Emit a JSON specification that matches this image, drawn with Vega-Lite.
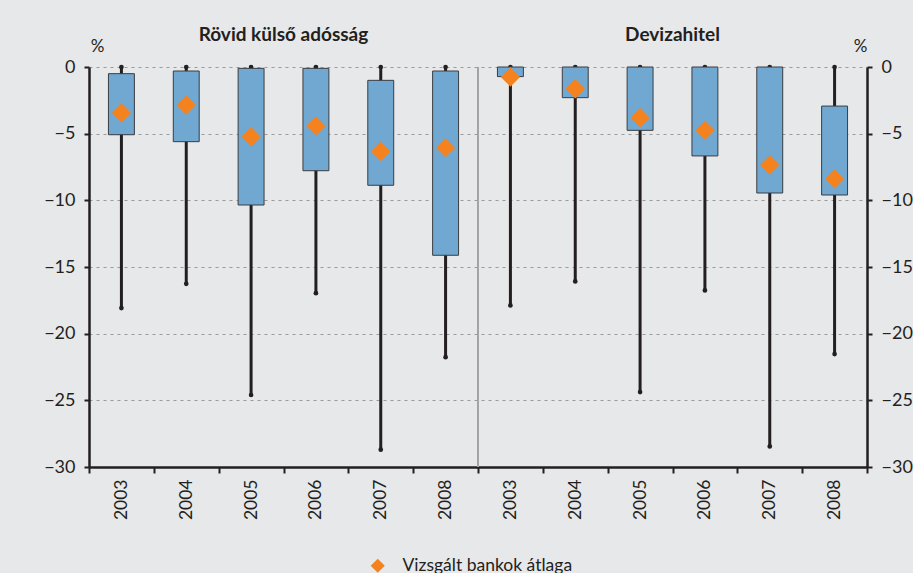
{
  "$schema": "https://vega.github.io/schema/vega-lite/v6.json",
  "width": 778,
  "height": 400,
  "padding": {"left": 43, "right": 0, "top": 25, "bottom": 0},
  "background": "#e7e8ea",
  "config": {
    "view": {"stroke": null},
    "font": "Lato",
    "axis": {"labelFont": "Lato", "titleFont": "Lato", "labelColor": "#231f20", "titleColor": "#231f20"},
    "legend": {"labelFont": "Lato"}
  },
  "data": {
    "values": [
      {"key": "R2003", "panel": "Rövid külső adósság", "min": -18.08, "lo": -5.08, "hi": -0.5, "max": 0, "mean": -3.45, "series": "Vizsgált bankok átlaga"},
      {"key": "R2004", "panel": "Rövid külső adósság", "min": -16.26, "lo": -5.6, "hi": -0.3, "max": 0, "mean": -2.85, "series": "Vizsgált bankok átlaga"},
      {"key": "R2005", "panel": "Rövid külső adósság", "min": -24.6, "lo": -10.35, "hi": -0.1, "max": 0, "mean": -5.23, "series": "Vizsgált bankok átlaga"},
      {"key": "R2006", "panel": "Rövid külső adósság", "min": -16.96, "lo": -7.78, "hi": -0.1, "max": 0, "mean": -4.42, "series": "Vizsgált bankok átlaga"},
      {"key": "R2007", "panel": "Rövid külső adósság", "min": -28.7, "lo": -8.87, "hi": -1.0, "max": 0, "mean": -6.33, "series": "Vizsgált bankok átlaga"},
      {"key": "R2008", "panel": "Rövid külső adósság", "min": -21.76, "lo": -14.12, "hi": -0.3, "max": 0, "mean": -6.05, "series": "Vizsgált bankok átlaga"},
      {"key": "D2003", "panel": "Devizahitel", "min": -17.88, "lo": -0.72, "hi": 0, "max": 0, "mean": -0.75, "series": "Vizsgált bankok átlaga"},
      {"key": "D2004", "panel": "Devizahitel", "min": -16.08, "lo": -2.3, "hi": 0, "max": 0, "mean": -1.63, "series": "Vizsgált bankok átlaga"},
      {"key": "D2005", "panel": "Devizahitel", "min": -24.38, "lo": -4.75, "hi": 0, "max": 0, "mean": -3.8, "series": "Vizsgált bankok átlaga"},
      {"key": "D2006", "panel": "Devizahitel", "min": -16.76, "lo": -6.67, "hi": 0, "max": 0, "mean": -4.75, "series": "Vizsgált bankok átlaga"},
      {"key": "D2007", "panel": "Devizahitel", "min": -28.46, "lo": -9.45, "hi": 0, "max": 0, "mean": -7.35, "series": "Vizsgált bankok átlaga"},
      {"key": "D2008", "panel": "Devizahitel", "min": -21.53, "lo": -9.6, "hi": -2.93, "max": 0, "mean": -8.38, "series": "Vizsgált bankok átlaga"}
    ]
  },
  "layer": [
    {
      "mark": {"type": "rule", "color": "#a3a3a3", "strokeWidth": 1},
      "encoding": {
        "x": {"datum": "D2003", "bandPosition": 0, "axis": null}
      }
    },
    {
      "mark": {"type": "rule", "color": "#231f20", "strokeWidth": 3},
      "encoding": {
        "x": {
          "field": "key", "type": "nominal", "sort": null,
          "scale": {"domain": ["R2003", "R2004", "R2005", "R2006", "R2007", "R2008", "D2003", "D2004", "D2005", "D2006", "D2007", "D2008"], "paddingInner": 0, "paddingOuter": 0},
          "axis": {
            "orient": "bottom", "title": null,
            "labelExpr": "substring(datum.label, 1)",
            "labelAngle": 270, "labelAlign": "right", "labelBaseline": "middle",
            "labelFontSize": 17.5, "labelPadding": 6,
            "tickBand": "extent", "tickSize": 6, "tickWidth": 2, "tickColor": "#231f20",
            "domainColor": "#231f20", "domainWidth": 2.5
          }
        },
        "y": {
          "field": "min", "type": "quantitative",
          "scale": {"domain": [-30, 0], "nice": false},
          "axis": {
            "orient": "left", "title": "%", "titleAngle": 0, "titleX": 8, "titleY": -12,
            "titleAlign": "center", "titleBaseline": "bottom", "titleFontWeight": "normal", "titleFontSize": 17,
            "values": [-30, -25, -20, -15, -10, -5, 0],
            "labelFontSize": 18, "labelPadding": 9,
            "tickSize": 5, "tickWidth": 2, "tickColor": "#231f20",
            "domainColor": "#231f20", "domainWidth": 2.5,
            "grid": true, "gridColor": "#9a9a9a", "gridDash": [3, 4], "gridWidth": 1
          }
        },
        "y2": {"field": "max"}
      }
    },
    {
      "mark": {"type": "point", "shape": "circle", "filled": true, "color": "#231f20", "size": 22, "opacity": 1},
      "encoding": {
        "x": {"field": "key", "type": "nominal", "sort": null, "axis": null},
        "y": {"field": "min", "type": "quantitative", "axis": null}
      }
    },
    {
      "mark": {"type": "point", "shape": "circle", "filled": true, "color": "#231f20", "size": 22, "opacity": 1},
      "encoding": {
        "x": {"field": "key", "type": "nominal", "sort": null, "axis": null},
        "y": {"field": "max", "type": "quantitative", "axis": null}
      }
    },
    {
      "mark": {"type": "bar", "fill": "#71a8d1", "stroke": "#3a3d40", "strokeWidth": 1, "width": {"band": 0.4}},
      "encoding": {
        "x": {
          "field": "key", "type": "nominal", "sort": null,
          "axis": {
            "orient": "top", "title": null, "labelOffset": 32.4,
            "labelExpr": "datum.value === 'R2005' ? 'Rövid külső adósság' : (datum.value === 'D2005' ? 'Devizahitel' : '')",
            "labelAngle": 0, "labelAlign": "center", "labelBaseline": "alphabetic",
            "labelFontSize": 19, "labelFontWeight": "bold", "labelPadding": 27,
            "labelOverlap": false, "labelBound": false, "labelFlush": false, "labelLimit": 0,
            "ticks": false, "domain": false, "grid": false
          }
        },
        "y": {"field": "lo", "type": "quantitative", "axis": null},
        "y2": {"field": "hi"}
      }
    },
    {
      "mark": {"type": "point", "filled": true, "opacity": 1, "size": 372, "strokeWidth": 0},
      "encoding": {
        "x": {"field": "key", "type": "nominal", "sort": null, "axis": null},
        "y": {
          "field": "mean", "type": "quantitative",
          "axis": {
            "orient": "right", "title": "%", "titleAngle": 0, "titleX": -7, "titleY": -12,
            "titleAlign": "center", "titleBaseline": "bottom", "titleFontWeight": "normal", "titleFontSize": 17,
            "values": [-30, -25, -20, -15, -10, -5, 0],
            "labelFontSize": 18, "labelPadding": 9,
            "tickSize": 5, "tickWidth": 2, "tickColor": "#231f20",
            "domainColor": "#231f20", "domainWidth": 2.5, "grid": false
          }
        },
        "color": {
          "field": "series", "type": "nominal",
          "scale": {"range": ["#f4821f"]},
          "legend": {
            "orient": "none", "legendX": 280, "legendY": 490, "padding": 0,
            "title": null, "direction": "horizontal", "labelLimit": 0,
            "labelFontSize": 17.5, "labelColor": "#231f20", "labelOffset": 16,
            "symbolType": "diamond", "symbolSize": 200, "symbolStrokeWidth": 0
          }
        },
        "shape": {"field": "series", "type": "nominal", "scale": {"range": ["diamond"]}, "legend": null}
      }
    }
  ],
  "resolve": {"axis": {"x": "independent", "y": "independent"}}
}
